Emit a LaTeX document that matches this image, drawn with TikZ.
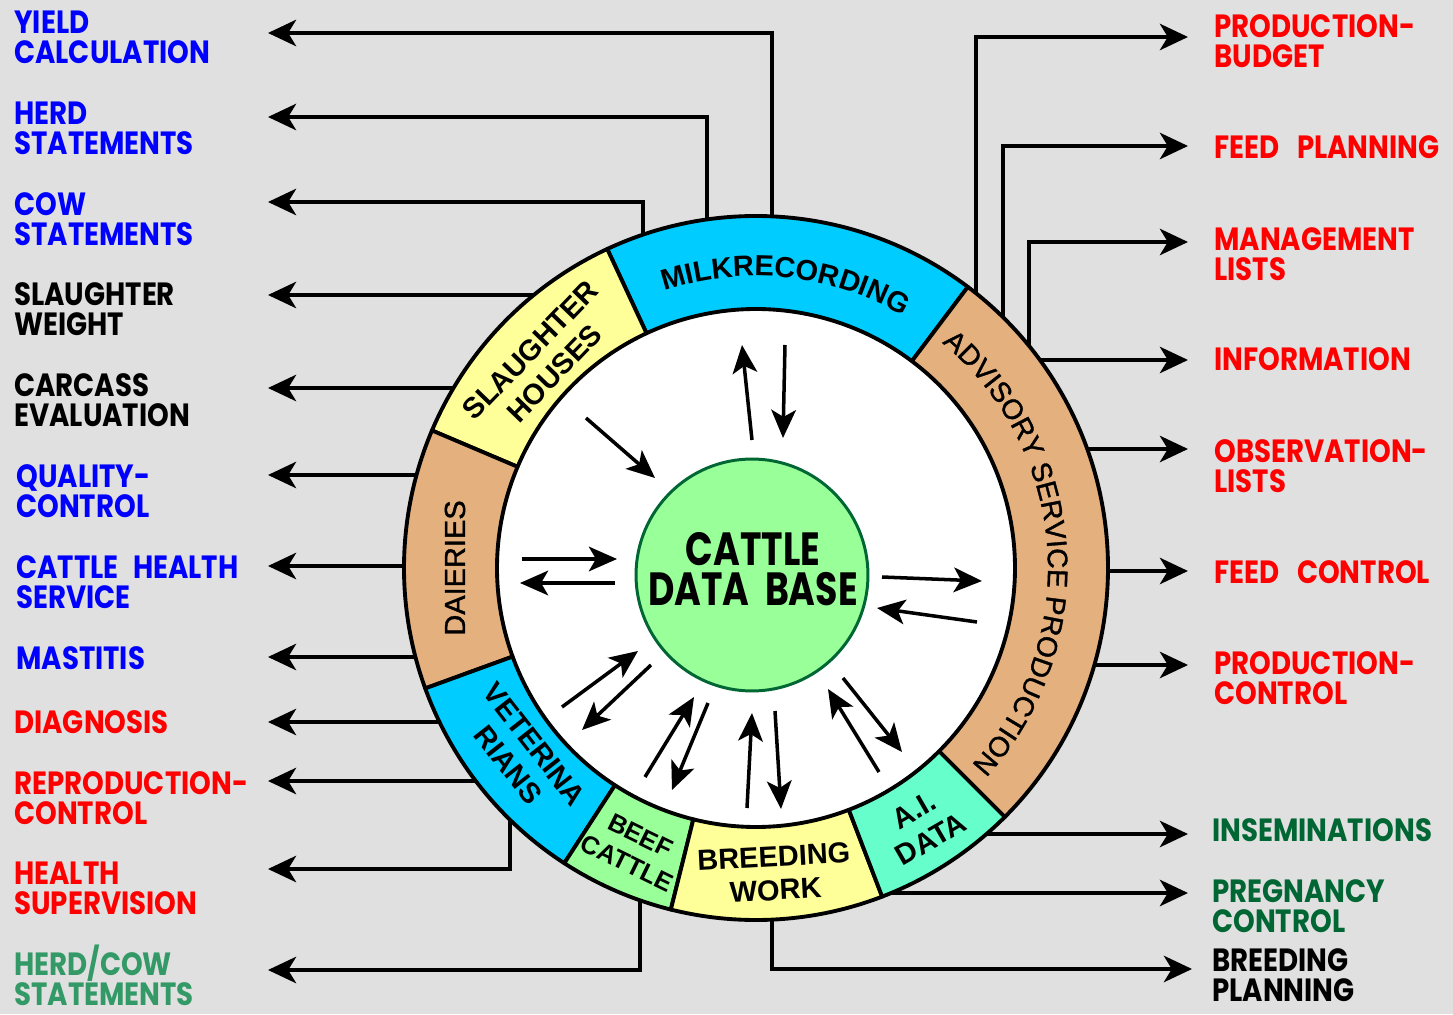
\documentclass[tikz,border=0pt]{standalone}
\usepackage{fontspec}
\usepackage{tikz}
\usetikzlibrary{arrows.meta,decorations.text}
\setmainfont{Liberation Sans}
\newfontfamily\semifont[FakeBold=1.3]{Liberation Sans}
\newfontfamily\gothic[FakeStretch=0.86]{Poppins}
\newfontfamily\gothicc[FakeStretch=0.78]{Poppins}
\newcommand\tightlines{\setlength{\lineskiplimit}{-20pt}}
\definecolor{bggray}{RGB}{224,224,224}
\definecolor{skyc}{RGB}{0,204,255}
\definecolor{paley}{RGB}{255,255,153}
\definecolor{tanc}{RGB}{228,176,126}
\definecolor{mintc}{RGB}{102,255,204}
\definecolor{lgreen}{RGB}{153,255,153}
\definecolor{dgreen}{RGB}{0,102,51}
\definecolor{mgreen}{RGB}{51,153,102}

\begin{document}
\begin{tikzpicture}[x=0.02cm, y=0.02cm,
    outlbl/.style={anchor=west, inner sep=0pt, align=left,
        font=\gothic\bfseries\fontsize{18.3}{17}\selectfont\tightlines},
    ringlbl/.style={align=center, inner sep=0pt,
        font=\bfseries\fontsize{16.5}{19}\selectfont},
    conn/.style={line width=2.2pt, -{Stealth[length=16pt,width=15pt,inset=4.5pt]}},
    flow/.style={line width=2pt, -{Stealth[length=16pt,width=14pt,inset=4pt]}},
    seg/.style={line width=2.2pt, line join=round}]

    % page and background
    \path[use as bounding box] (-756,-446) rectangle (697,568);
    \fill[bggray] (-756,-446) rectangle (697,568);

    % outputs on the left, straight from the ring
    \foreach \nm/\yy in {slw/273, carc/180, qual/93, chs/2, mast/-89, diag/-154, repr/-213} {
        \coordinate (\nm-in) at ({180-asin(\yy/345)}:345);
        \coordinate (\nm-tip) at (-488,\yy);
        \draw[conn] (\nm-in) -- (\nm-tip);
    }
    % outputs on the left, bent
    \foreach \nm/\xx/\yy in {yield/16/535, herds/-49/451, cows/-113/366} {
        \coordinate (\nm-in) at ({acos(\xx/345)}:345);
        \coordinate (\nm-tip) at (-488,\yy);
        \draw[conn] (\nm-in) |- (\nm-tip);
    }
    \foreach \nm/\xx/\yy in {hsup/-246/-301, hcow/-116/-402} {
        \coordinate (\nm-in) at ({-acos(\xx/345)}:345);
        \coordinate (\nm-tip) at (-488,\yy);
        \draw[conn] (\nm-in) |- (\nm-tip);
    }

    % outputs on the right
    \foreach \nm/\yy in {info/208, obs/119, fctl/-3, pctl/-97, insem/-266, preg/-325} {
        \coordinate (\nm-in) at ({asin(\yy/345)}:345);
        \coordinate (\nm-tip) at (432,\yy);
        \draw[conn] (\nm-in) -- (\nm-tip);
    }
    \foreach \nm/\xx/\yy in {budget/220/531, fplan/247/422, mgmt/273/326} {
        \coordinate (\nm-in) at ({acos(\xx/345)}:345);
        \coordinate (\nm-tip) at (432,\yy);
        \draw[conn] (\nm-in) |- (\nm-tip);
    }
    \coordinate (bplan-in) at ({-acos(16/345)}:345);
    \coordinate (bplan-tip) at (436,-401);
    \draw[conn] (bplan-in) |- (bplan-tip);

    % ring of data sources
    \fill[white] (0,0) circle[radius=259];
    \foreach \a/\b/\col in {53/115/skyc, 115/157/paley, 157/200/tanc, 200/237/skyc,
                            237/256/lgreen, 256/291/paley, 291/315/mintc, -45/53/tanc} {
        \draw[seg, fill=\col] (\a:259) arc[start angle=\a, end angle=\b, radius=259]
            -- (\b:352) arc[start angle=\b, end angle=\a, radius=352] -- cycle;
    }

    % central data base
    \node[circle, draw=dgreen, line width=1.7pt, fill=lgreen, minimum size=4.64cm,
          inner sep=0pt] (db) at (-4,-7) {};
    \node[align=center, inner sep=0pt,
          font=\gothicc\bfseries\fontsize{26.5}{22.5}\selectfont] (dbtxt) at (-3,-1)
          {CATTLE\\DATA\ \ BASE};

    % data flows between ring and data base
    \foreach \nm/\sx/\sy/\ex/\ey in {mu/-4/128/-14/223, md/29/223/27/130,
            sh/-170/150/-101/90, du/-234/9/-139/9, dd/-141/-15/-236/-15,
            vu/-194/-139/-118/-83, vd/-105/-97/-174/-162,
            bu/-111/-209/-62/-129, bd/-48/-135/-84/-222,
            wu/-9/-240/-4/-145, wd/19/-143/25/-241,
            au/123/-204/72/-121, ad/87/-110/146/-184,
            pr/126/-9/226/-13, pl/221/-54/121/-40} {
        \coordinate (\nm-s) at (\sx,\sy);
        \coordinate (\nm-e) at (\ex,\ey);
        \draw[flow] (\nm-s) -- (\nm-e);
    }

    % ring labels
    \path[decorate, decoration={text along path, text align=center,
        text={|\bfseries\fontsize{16.5}{19}\selectfont|MILKRECORDING}}]
        (115:292) arc[start angle=115, end angle=53, radius=292];
    \path[decorate, decoration={text along path, text align=center,
        text={|\semifont\fontsize{16}{19}\selectfont|ADVISORY SERVICE PRODUCTION}}]
        (53:292) arc[start angle=53, end angle=-45, radius=292];
    \node[ringlbl, rotate=46] (slh) at (136:297) {SLAUGHTER\\HOUSES};
    \node[ringlbl, rotate=90, font=\semifont\fontsize{16.5}{19}\selectfont] (dai) at (180:301) {DAIERIES};
    \node[ringlbl, rotate=-52] (vet) at (218.5:300) {VETERINA\\RIANS};
    \node[ringlbl, rotate=-26, font=\bfseries\fontsize{14.5}{17.5}\selectfont] (beef) at (246.5:307) {BEEF\\CATTLE};
    \node[ringlbl, rotate=3] (brw) at (273.5:306) {BREEDING\\WORK};
    \node[ringlbl, rotate=30] (aid) at (303:306) {A.I.\\DATA};

    % labels on the left
    \node[outlbl, text=blue] (yield) at (-742,530.5) {YIELD\\CALCULATION};
    \node[outlbl, text=blue] (herds) at (-742,440) {HERD\\STATEMENTS};
    \node[outlbl, text=blue] (cows) at (-742,349) {COW\\STATEMENTS};
    \node[outlbl] (slw) at (-742,259) {SLAUGHTER\\WEIGHT};
    \node[outlbl] (carc) at (-742,168) {CARCASS\\EVALUATION};
    \node[outlbl, text=blue] (qual) at (-740,77) {QUALITY-\\CONTROL};
    \node[outlbl, text=blue] (chs) at (-740,-14) {CATTLE\hspace{0.45em}HEALTH\\SERVICE};
    \node[outlbl, text=blue] (mast) at (-740,-90) {MASTITIS};
    \node[outlbl, text=red] (diag) at (-742,-154) {DIAGNOSIS};
    \node[outlbl, text=red] (repr) at (-742,-230) {REPRODUCTION-\\CONTROL};
    \node[outlbl, text=red] (hsup) at (-742,-320) {HEALTH\\SUPERVISION};
    \node[outlbl, text=mgreen] (hcow) at (-742,-407) {HERD/COW\\STATEMENTS};

    % labels on the right
    \node[outlbl, text=red] (budget) at (458,526.5) {PRODUCTION-\\BUDGET};
    \node[outlbl, text=red] (fplan) at (458,420.5) {FEED\hspace{0.55em}PLANNING};
    \node[outlbl, text=red] (mgmt) at (458,313.5) {MANAGEMENT\\LISTS};
    \node[outlbl, text=red] (info) at (458,208.5) {INFORMATION};
    \node[outlbl, text=red] (obs) at (458,102) {OBSERVATION-\\LISTS};
    \node[outlbl, text=red] (fctl) at (458,-4) {FEED\hspace{0.55em}CONTROL};
    \node[outlbl, text=red] (pctl) at (458,-110.5) {PRODUCTION-\\CONTROL};
    \node[outlbl, text=dgreen] (insem) at (456,-262.5) {INSEMINATIONS};
    \node[outlbl, text=dgreen] (preg) at (456,-338) {PREGNANCY\\CONTROL};
    \node[outlbl] (bplan) at (456,-407) {BREEDING\\PLANNING};
\end{tikzpicture}
\end{document}
